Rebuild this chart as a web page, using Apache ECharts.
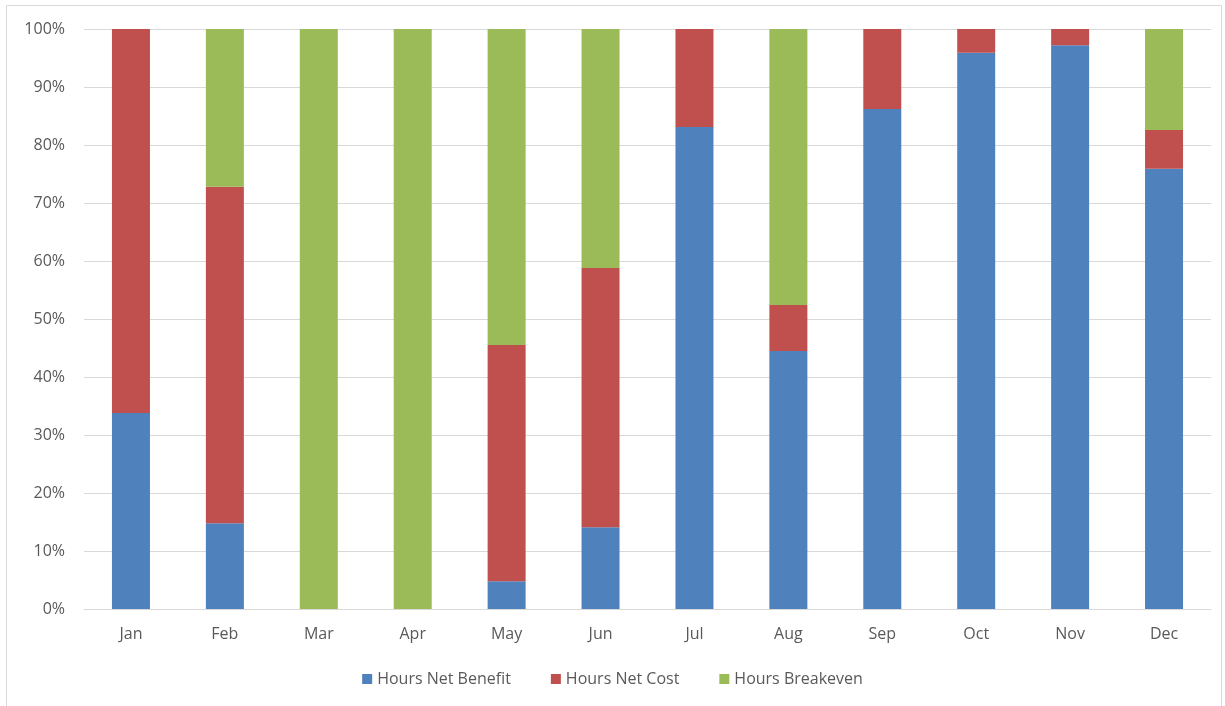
<!DOCTYPE html>
<html><head><meta charset="utf-8">
<script src="https://cdn.jsdelivr.net/npm/echarts@6/dist/echarts.min.js"></script>
<style>html,body{margin:0;padding:0;background:#fff}#c{width:1225px;height:706px}</style>
</head><body><div id="c"></div>
<script>
const categories = ['Jan','Feb','Mar','Apr','May','Jun','Jul','Aug','Sep','Oct','Nov','Dec'];
const netBenefit = [33.8, 14.8, 0, 0, 4.8, 14.1, 83.1, 44.5, 86.2, 95.9, 97.2, 75.9];
const netCost    = [66.2, 58.0, 0, 0, 40.7, 44.7, 16.9, 7.9, 13.8, 4.1, 2.8, 6.7];
const breakeven  = [0, 27.2, 100, 100, 54.5, 41.2, 0, 47.6, 0, 0, 0, 17.4];
const seriesNames = ['Hours Net Benefit','Hours Net Cost','Hours Breakeven'];
const colors = ['#4f81bd','#c0504d','#9bbb59'];

const font = 'Open Sans, Noto Sans, sans-serif';
const chart = echarts.init(document.getElementById('c'));
const mk = (name, data, i) => ({
  name, type:'bar', stack:'s', data, barWidth: 38,
  itemStyle:{color: colors[i]},
  emphasis:{disabled:true}
});
chart.setOption({
  animation:false,
  graphic:[{type:'rect', shape:{x:6.5,y:5.5,width:1215,height:705}, style:{fill:'none', stroke:'#d9d9d9', lineWidth:1}, silent:true}],
  grid:{left:84, right:14, top:29, bottom:97},
  legend:{bottom:14, left:'center', itemWidth:10, itemHeight:10, itemGap:40, icon:'rect',
    textStyle:{color:'#595959', fontSize:16, fontFamily:font, padding:[0,0,0,0]}},
  xAxis:{type:'category', data:categories,
    axisLine:{lineStyle:{color:'#d9d9d9'}}, axisTick:{show:false},
    axisLabel:{color:'#595959', fontSize:16, fontFamily:font, margin:17}},
  yAxis:{type:'value', min:0, max:100, interval:10,
    axisLabel:{formatter:'{value}%', color:'#595959', fontSize:16, fontFamily:font, margin:19},
    splitLine:{lineStyle:{color:'#d9d9d9'}}, axisLine:{show:false}, axisTick:{show:false}},
  series:[mk(seriesNames[0], netBenefit, 0), mk(seriesNames[1], netCost, 1), mk(seriesNames[2], breakeven, 2)]
});
</script></body></html>
